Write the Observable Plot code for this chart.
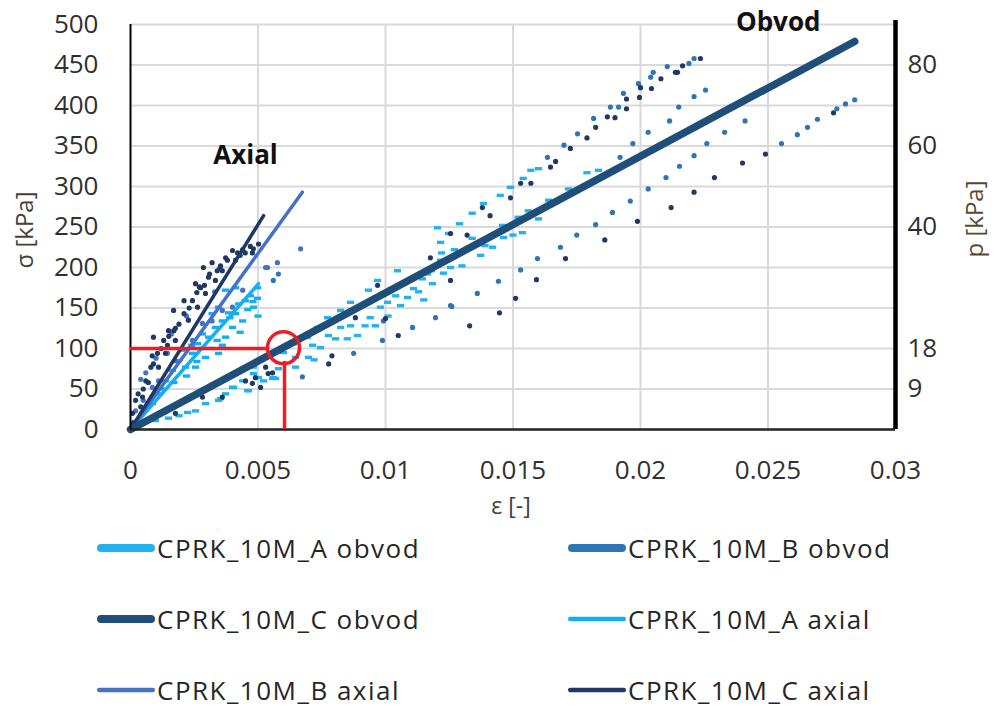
<!DOCTYPE html>
<html>
<head>
<meta charset="utf-8">
<script src="https://cdn.jsdelivr.net/npm/d3@7"></script>
<script src="https://cdn.jsdelivr.net/npm/@observablehq/plot@0.6"></script>
<style>
  body { margin: 0; background: #fff; }
  #wrap { position: relative; width: 995px; height: 708px; font-family: "Open Sans", sans-serif; overflow: hidden; }
  #wrap > svg { position: absolute; left: 0; top: 0; }
  .leg { position: absolute; display: flex; align-items: center; height: 28px; }
  .leg span { display: inline-block; font-size: 26px; line-height: 28px; letter-spacing: 1.5px; color: #262626; white-space: nowrap; margin-left: 2px; }
</style>
</head>
<body>
<div id="wrap"></div>
<script>
// ---------- axes / ticks ----------
const xTicks = [0, 0.005, 0.01, 0.015, 0.02, 0.025, 0.03];
const xTickLabels = ["0", "0.005", "0.01", "0.015", "0.02", "0.025", "0.03"];
const yTicks = [0, 50, 100, 150, 200, 250, 300, 350, 400, 450, 500];
const pTickSigma = [50, 100, 250, 350, 450];
const pTickLabels = ["9", "18", "40", "60", "80"];
const xLabel = ["ε [-]"];
const yLabel = ["σ [kPa]"];
const pLabel = ["p [kPa]"];

// ---------- series names ----------
const seriesNames = ["CPRK_10M_A obvod", "CPRK_10M_B obvod", "CPRK_10M_C obvod",
                     "CPRK_10M_A axial", "CPRK_10M_B axial", "CPRK_10M_C axial"];

// ---------- lines [eps, sigma] ----------
const obvodFit   = [[0, 0], [0.0284, 479]];
const axialALine = [[0, 0], [0.00502, 180]];
const axialBLine = [[0, 0], [0.00674, 293]];
const axialCLine = [[0, 0], [0.00522, 264]];

// ---------- measured points [eps, sigma] ----------
const obvodA = [[0.00098,11],[0.00149,14],[0.0019,17],[0.00255,23],[0.00294,32],[0.00345,36],[0.00373,44],[0.004,52],[0.0044,60],[0.00463,48],[0.00502,64],[0.00557,63],[0.0058,75],[0.00353,38],[0.00224,21],[0.00404,52],[0.00482,77],[0.0056,64],
 [0.00522,60],[0.00569,63],[0.00647,77],[0.00698,89],[0.00714,104],[0.00745,101],[0.00776,116],[0.00804,112],[0.00824,126],[0.00863,128],[0.0089,116],[0.0092,128],[0.0094,138],[0.0096,128],[0.0098,151],[0.01008,157],[0.0104,165],[0.01059,153],[0.01086,163],[0.0111,174],[0.01145,186],[0.01165,192],[0.01184,180],[0.01204,202],[0.01227,193],[0.01047,196],[0.00969,184],[0.00933,172],[0.00863,157],[0.00824,147],[0.00773,138],[0.00733,126],[0.00694,114],[0.0064,106],[0.006,95],[0.00482,69],[0.00459,48],[0.00647,89],[0.01204,249],[0.01247,242],[0.0129,254],[0.013,202],
 [0.01216,231],[0.0134,267],[0.01384,279],[0.0145,289],[0.0149,299],[0.0154,310],[0.0157,320],[0.016,322],
 [0.01216,209],[0.01255,200],[0.01373,215],[0.0142,225],[0.01463,237],[0.015,240],[0.01537,243],[0.0156,270],[0.016,260],[0.0164,283],[0.01718,297],[0.0179,317],[0.01835,320],[0.0139,227],[0.01459,252],[0.0152,262],
 [0.0107,180],[0.0113,170],[0.0118,196],[0.0122,218],[0.0127,222],[0.0134,236],[0.0072,86],[0.0085,112],[0.0101,140],[0.0115,160]];

const obvodB = [[0.00674,65],[0.00875,94],[0.00988,110],[0.00992,134],[0.01196,138],[0.01255,153],[0.01106,126],[0.0126,152],[0.0136,168],[0.01443,183],[0.0153,197],[0.01596,211],[0.01686,225],[0.0175,240],[0.01824,253],[0.0189,268],[0.0196,282],[0.0203,297],[0.021,311],[0.02153,325],[0.0221,338],
 [0.01635,336],[0.017,351],[0.01753,365],[0.01816,384],[0.01882,398],[0.01914,398],[0.01933,415],[0.01992,427],[0.0204,435],[0.0205,441],[0.02105,448],[0.0219,452],[0.0221,458],
 [0.0192,336],[0.0197,353],[0.0203,367],[0.02114,381],[0.0215,398],[0.0221,411],[0.02255,419],[0.0226,353],[0.0233,367],[0.0241,381],
 [0.02553,353],[0.02615,364],[0.02655,373],[0.02694,383],[0.0277,396],[0.02804,402],[0.0284,407],[0.00537,200],[0.0058,192],[0.0056,184]];

const obvodC = [[0.00176,20],[0.00282,40],[0.0036,40],[0.00478,57],[0.0051,52],[0.0054,69],[0.00451,60],[0.0049,64],[0.0053,77],[0.00557,70],[0.0079,91],[0.00777,81],[0.00882,138],[0.00969,178],[0.01,137],[0.0105,116],[0.0133,128],[0.01447,144],[0.0151,162],[0.01592,185],[0.01706,211],[0.0186,234],[0.01988,257],[0.0212,274],[0.01176,212],[0.01255,184],
 [0.01255,242],[0.0132,240],[0.0138,274],[0.0141,264],[0.0149,286],[0.0153,304],[0.0157,304],[0.01647,324],[0.01667,331],[0.01725,347],[0.0179,360],[0.01824,373],[0.0187,386],[0.019,385],[0.01945,396],[0.01945,408],[0.01996,410],[0.02,422],[0.02043,421],[0.0208,433],[0.02137,441],[0.02165,449],[0.02235,458],[0.02145,441],
 [0.0221,293],[0.0229,311],[0.024,329],[0.0249,340],[0.02757,391]];

const axialA = [[0.00047,20],[0.00086,32],[0.0011,44],[0.00137,60],[0.00165,73],[0.0019,85],[0.00204,98],[0.00243,94],[0.00263,106],[0.00255,77],[0.00294,89],[0.00306,114],[0.00333,126],[0.0036,134],[0.00373,114],[0.00384,144],[0.00412,143],[0.00424,155],[0.0045,159],[0.0047,165],[0.00482,151],[0.00498,162],[0.00498,175],[0.00282,118],[0.0032,143],[0.00345,151],[0.004,126],[0.0044,134],[0.00216,77],[0.00345,94],[0.00373,172],[0.00412,175],[0.0002,10],[0.0007,30],[0.0013,50],[0.0017,58],[0.0028,100],[0.0031,100],[0.0024,104],[0.0039,138],[0.0046,148],[0.005,140],[0.0034,110],[0.0022,66],[0.0026,84],[0.0043,120],[0.0048,158],[0.0036,104]];

const axialB = [[0.0002,23],[0.0005,36],[0.0011,60],[0.00176,85],[0.00243,110],[0.00282,131],[0.0032,134],[0.0036,147],[0.004,151],[0.0044,172],[0.0053,200],[0.00576,206],[0.00086,52],[0.00145,94],[0.00667,223],[0.0006,70],[0.0004,62],[0.001,88],[0.0016,118],[0.0022,140],[0.0033,170]];

const axialC = [[0.00008,20],[0.0002,36],[0.0003,44],[0.0006,60],[0.0008,77],[0.00106,94],[0.0013,110],[0.00176,125],[0.0021,143],[0.00243,159],[0.00275,175],[0.00306,188],[0.00353,202],[0.0038,209],[0.00412,209],[0.0045,218],[0.00482,223],[0.00502,229],[0.0009,114],[0.00149,122],[0.00169,147],[0.0021,159],[0.00255,180],[0.00286,200],[0.0032,206],[0.00373,212],[0.004,221],[0.00047,40],[0.0011,77],[0.00137,94],[0.00176,110],[0.00227,135],[0.00263,151],[0.00294,168],[0.00333,184],[0.0036,196],[0.0043,215],[0.00478,218],[0.0009,81],[0.00085,91],[0.00145,104],[0.0017,122],[0.0026,169],[0.0027,176],[0.0034,196],[0.0001,8],[0.0004,28],[0.0005,50],[0.0007,58],[0.0012,100],[0.0015,115],[0.0019,130],[0.0023,150],[0.0029,178],[0.0031,192],[0.0035,199],[0.0042,218],[0.0044,222],[0.0047,226]];

// ---------- annotations ----------
const refPoint = [[0.006, 101]];
const refH = [[0, 0.00533, 100]];   // x1, x2, y
const refV = [[0.00604, 0, 84]];    // x, y1, y2
const notes = [{t: "Axial", e: 0.00451, s: 338}, {t: "Obvod", e: 0.0254, s: 502}];

// ---------- colours ----------
const colors = ["#22b2ee", "#2e75b6", "#1f4e79", "#14aff0", "#4472c4", "#1f3864"];
const dotNavy = "#1f3864";

const dash = { draw(ctx) { ctx.moveTo(-3.6, -1.7); ctx.lineTo(3.6, -1.7); ctx.lineTo(3.6, 1.7); ctx.lineTo(-3.6, 1.7); ctx.closePath(); } };
const X = d => d[0], Y = d => d[1];
const pMap = new Map(pTickSigma.map((s, i) => [s, pTickLabels[i]]));
const xMap = new Map(xTicks.map((v, i) => [v, xTickLabels[i]]));
const tickColor = "#303030";

const chart = Plot.plot({
  width: 995, height: 530,
  marginLeft: 130, marginRight: 100, marginTop: 24, marginBottom: 101,
  style: { fontFamily: "Open Sans, sans-serif", background: "transparent", overflow: "visible" },
  x: { domain: [0, 0.03] },
  y: { domain: [0, 500] },
  marks: [
    Plot.gridX(xTicks.slice(1), { stroke: "#d9d9d9", strokeOpacity: 1, strokeWidth: 2 }),
    Plot.gridY(yTicks.slice(1), { stroke: "#d9d9d9", strokeOpacity: 1, strokeWidth: 2 }),
    Plot.axisX(xTicks, { tickSize: 0, tickPadding: 31, fontSize: 26, color: tickColor, tickFormat: d => xMap.get(d), label: null }),
    Plot.axisY(yTicks, { anchor: "left", tickSize: 0, tickPadding: 32, fontSize: 26, color: tickColor, label: null }),
    Plot.axisY(pTickSigma, { anchor: "right", tickSize: 0, tickPadding: 12, fontSize: 26, color: tickColor, tickFormat: d => pMap.get(d), label: null }),
    // obvod points
    Plot.dot(obvodA, { x: X, y: Y, symbol: dash, fill: colors[0], stroke: "none" }),
    Plot.dot(obvodB, { x: X, y: Y, r: 2.6, fill: colors[1], stroke: "none" }),
    Plot.dot(obvodC, { x: X, y: Y, r: 2.6, fill: dotNavy, stroke: "none" }),
    // axial points
    Plot.dot(axialA, { x: X, y: Y, symbol: dash, fill: colors[3], stroke: "none" }),
    Plot.dot(axialB, { x: X, y: Y, r: 2.6, fill: colors[4], stroke: "none" }),
    Plot.dot(axialC, { x: X, y: Y, r: 2.6, fill: dotNavy, stroke: "none" }),
    // lines
    Plot.line(axialALine, { x: X, y: Y, stroke: colors[3], strokeWidth: 3.5 }),
    Plot.line(axialBLine, { x: X, y: Y, stroke: colors[4], strokeWidth: 3.5 }),
    Plot.line(axialCLine, { x: X, y: Y, stroke: colors[5], strokeWidth: 3.5 }),
    Plot.line(obvodFit, { x: X, y: Y, stroke: colors[2], strokeWidth: 7.5, strokeLinecap: "round" }),
    // frame lines
    Plot.ruleX([0], { stroke: "#000", strokeWidth: 2 }),
    Plot.ruleY([0], { stroke: "#222", strokeWidth: 2.5 }),
    Plot.ruleX([0.03], { y1: 0, y2: 505, stroke: "#000", strokeWidth: 4.5 }),
    // red reference
    Plot.ruleY(refH, { x1: d => d[0], x2: d => d[1], y: d => d[2], stroke: "#ee1c25", strokeWidth: 3.5 }),
    Plot.ruleX(refV, { x: d => d[0], y1: d => d[1], y2: d => d[2], stroke: "#ee1c25", strokeWidth: 3.5 }),
    Plot.dot(refPoint, { x: X, y: Y, r: 16, stroke: "#ee1c25", strokeWidth: 3.5, fill: "none" }),
    // annotations
    Plot.text(notes, { x: "e", y: "s", text: "t", fontSize: 26, fontWeight: "bold", fill: "#111" }),
    // axis titles
    Plot.text(yLabel, { frameAnchor: "left", textAnchor: "middle", dx: -105, dy: 3, rotate: -90, fontSize: 24, fill: "#404040", text: d => d }),
    Plot.text(xLabel, { frameAnchor: "bottom", textAnchor: "middle", dx: -2, dy: 84, fontSize: 23, fill: "#404040", text: d => d }),
    Plot.text(pLabel, { frameAnchor: "right", textAnchor: "middle", dx: 80, dy: -8, rotate: -90, fontSize: 24, fill: "#5c4632", text: d => d })
  ]
});

const wrap = document.getElementById("wrap");
wrap.appendChild(chart);

// ---------- legend ----------
const legPos = [[97, 548], [568, 548], [97, 619], [568, 619], [97, 690], [568, 690]];
const legWidth = [8, 8, 8, 4.5, 4.5, 4.5];
seriesNames.forEach((name, i) => {
  const [lx, ly] = legPos[i];
  const div = document.createElement("div");
  div.className = "leg";
  div.style.left = lx + "px";
  div.style.top = (ly - 14) + "px";
  const w = legWidth[i];
  div.innerHTML = `<svg width="58" height="28" style="flex:none"><line x1="${w/2}" y1="14" x2="${58 - w/2}" y2="14" stroke="${colors[i]}" stroke-width="${w}" stroke-linecap="round"/></svg><span>${name}</span>`;
  wrap.appendChild(div);
});
</script>
</body>
</html>
